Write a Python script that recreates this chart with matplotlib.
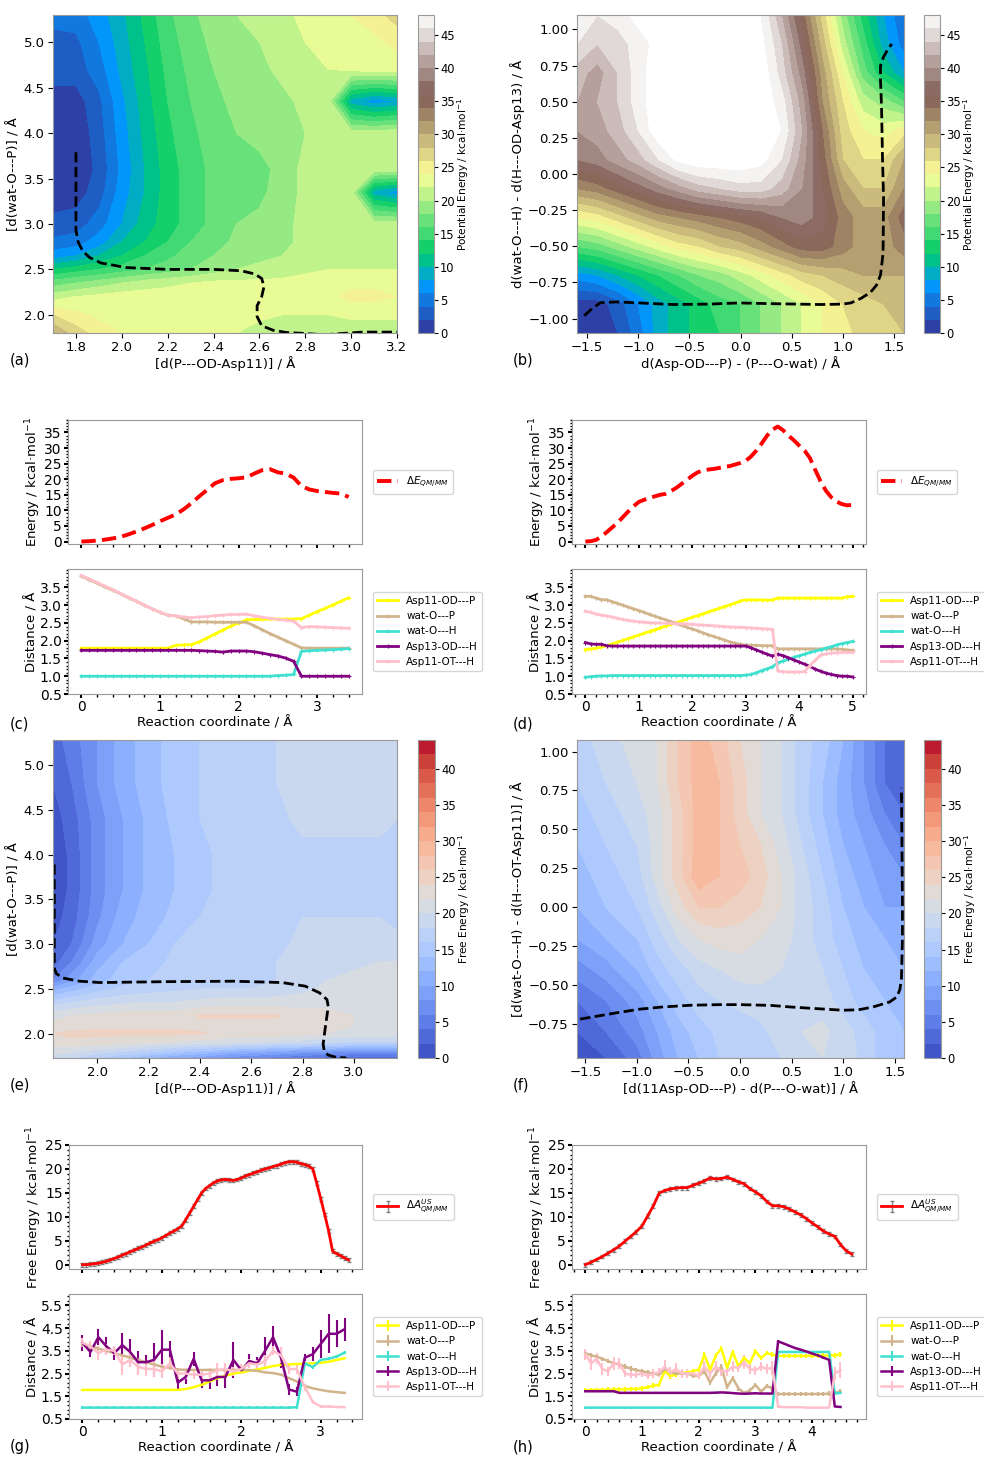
import numpy as np
import matplotlib
matplotlib.use('Agg')
import matplotlib.pyplot as plt
from matplotlib.ticker import MultipleLocator, AutoMinorLocator

# ---------------- contour data (a): potential energy ----------------
XA = [1.7, 1.8, 1.9, 2.0, 2.1, 2.2, 2.3, 2.4, 2.5, 2.6, 2.7, 2.8, 2.9, 3.0, 3.1, 3.2]
YA = [1.8, 2.0, 2.2, 2.35, 2.5, 2.65, 2.8, 3.0, 3.35, 3.6, 4.0, 4.35, 4.7, 5.0, 5.3]
ZA = [
    [30, 27, 25, 24, 23, 23, 22.5, 22.5, 22, 21, 21, 20.5, 20.5, 20.5, 20.5, 20.5],
    [26, 24.5, 23.5, 23, 23, 23, 23, 23, 23, 22.5, 22, 22, 22, 22.5, 22.5, 22.5],
    [21, 22, 22.5, 23, 23, 23, 23, 23, 23, 23, 23, 23, 23.5, 24.5, 24.5, 24],
    [17, 18, 19, 20, 21, 21.5, 22, 22.5, 22.5, 22.5, 22.5, 23, 23, 23.5, 23.5, 23],
    [12, 13, 14, 15, 16, 17, 18, 19, 20, 20.5, 21, 21.5, 22, 22, 22, 22],
    [7, 8, 10, 12, 14, 15.5, 17, 18, 19, 19.5, 20, 21, 21, 21, 21, 21],
    [4.5, 5, 7, 10, 12, 14, 16, 17, 18.5, 19, 19.5, 20.5, 21, 21, 21, 21],
    [2.5, 3, 5, 8, 11, 13, 15, 16.5, 18, 18.5, 19.5, 20.5, 21, 21, 21, 21],
    [1, 1, 3, 7, 10, 13, 15, 16.5, 17, 17.5, 19, 20.5, 21, 21, 9, 7],
    [0.5, 0.5, 2.5, 6.5, 10, 13, 15, 16.5, 17, 17, 19, 20.5, 21, 21, 21, 21],
    [0.5, 0.5, 3, 7, 10.5, 13.5, 15.5, 17, 18, 19, 19.5, 20, 21, 21, 21, 21.5],
    [1, 1, 3.5, 7.5, 11, 14, 16, 17.5, 18.5, 19, 19.5, 20.5, 21, 9, 7, 8],
    [3, 3, 5, 8.5, 11.5, 14.5, 16.5, 18, 19, 19.5, 20.5, 21.5, 22, 22.5, 23, 23],
    [3, 3.5, 6, 9, 12, 15, 17, 18.5, 19.5, 20, 21, 22, 22.5, 23, 23.5, 24.5],
    [5, 5, 7, 9.5, 12.5, 15.5, 17.5, 19, 20, 20.5, 21.5, 22.5, 23, 24, 25, 27],
]
PATH_A_X = [1.80, 1.80, 1.80, 1.81, 1.83, 1.86, 1.91, 2.02, 2.20, 2.40, 2.52, 2.58, 2.61, 2.62,
            2.61, 2.59, 2.59, 2.61, 2.66, 2.72, 2.80, 2.88, 2.96, 3.05, 3.20]
PATH_A_Y = [3.79, 3.30, 2.93, 2.80, 2.70, 2.63, 2.57, 2.52, 2.50, 2.50, 2.485, 2.45, 2.40, 2.31,
            2.20, 2.10, 1.98, 1.88, 1.83, 1.805, 1.795, 1.78, 1.795, 1.81, 1.81]

# ---------------- contour data (b) ----------------
XB = [-1.6, -1.4, -1.2, -1.0, -0.8, -0.6, -0.4, -0.2, 0.0, 0.2, 0.4, 0.6, 0.8, 1.0, 1.2, 1.4, 1.6]
YB = [-1.1, -0.9, -0.7, -0.5, -0.3, -0.1, 0.1, 0.3, 0.5, 0.7, 0.9, 1.1]
ZB = [
    [1, 1, 2, 5, 9, 11, 13, 14, 16, 18, 20, 22, 24, 25, 27, 28, 28],
    [1, 1, 3, 6, 9, 11, 13, 15, 16, 18, 20, 22, 24, 26, 27, 28, 29],
    [7, 8, 10, 12, 14, 16, 18, 19, 21, 23, 25, 27, 28, 29, 30, 30, 30],
    [16, 17, 19, 21, 23, 25, 26, 28, 29, 31, 33, 35, 35, 33, 31, 31, 33],
    [24, 25, 27, 29, 31, 32, 33, 34, 35, 36, 38, 39, 37, 33, 31, 31, 35],
    [32, 33, 35, 37, 39, 41, 43, 44, 45, 45, 43, 40, 36, 31, 28, 28, 32],
    [38, 39, 41, 43, 46, 49, 50, 50, 50, 49, 46, 41, 35, 28, 26, 26, 30],
    [40, 41, 43, 46, 50, 52, 52, 52, 52, 52, 48, 42, 34, 27, 24, 23, 25],
    [42, 42, 44, 47, 50, 52, 52, 52, 52, 50, 47, 41, 32, 26, 21, 19, 16],
    [43, 41, 44, 47, 50, 52, 52, 52, 52, 50, 45, 39, 31, 24, 17, 12, 8],
    [46, 44, 45, 47, 49, 51, 52, 52, 51, 49, 44, 37, 29, 21, 15, 9, 5],
    [48, 46, 47, 49, 50, 52, 52, 52, 50, 48, 42, 35, 27, 19, 13, 8, 4],
]
PATH_B_X = [-1.53, -1.45, -1.37, -1.21, -0.9, -0.66, -0.3, -0.02, 0.3, 0.79, 1.0, 1.08, 1.18,
            1.27, 1.33, 1.37, 1.395, 1.40, 1.39, 1.38, 1.37, 1.37, 1.40, 1.44, 1.48]
PATH_B_Y = [-0.98, -0.93, -0.89, -0.885, -0.895, -0.903, -0.90, -0.892, -0.897, -0.903, -0.9,
            -0.892, -0.86, -0.82, -0.77, -0.70, -0.55, -0.17, 0.1, 0.47, 0.65, 0.75, 0.81, 0.86, 0.90]

# ---------------- contour data (e): free energy ----------------
XE = [1.827, 1.9, 2.0, 2.1, 2.2, 2.3, 2.4, 2.5, 2.6, 2.7, 2.8, 2.9, 3.0, 3.1, 3.17]
YE = [1.727, 1.8, 1.9, 2.0, 2.1, 2.2, 2.35, 2.5, 2.6, 2.8, 3.0, 3.3, 3.6, 4.0, 4.4, 4.8, 5.28]
ZE = [
    [19, 18, 16, 14, 12, 10, 9, 7, 6, 5, 4, 3, 2.5, 2.5, 2.5],
    [21, 20.5, 19, 18, 16.5, 15, 13.5, 12, 11, 10, 9, 8.5, 8, 8, 8],
    [23, 23.5, 23, 22.5, 22, 21.5, 21, 20.5, 20, 19.5, 19, 18, 17.5, 17.5, 17.5],
    [24, 24.5, 24.5, 24.5, 24.5, 24.5, 24.2, 23.5, 23, 23, 22.5, 22, 21.5, 21.5, 21.5],
    [22.5, 23, 23.5, 23.5, 23.5, 23.5, 23.5, 23.5, 23.5, 23.5, 23, 22.5, 22, 22, 22],
    [21, 22, 22.5, 23, 23, 23, 24.2, 24.2, 24.2, 24.2, 23, 22.5, 22, 22, 22],
    [17, 18, 19, 19.5, 20, 20, 20.5, 21, 21, 21, 21, 21.5, 21.5, 21.5, 21.5],
    [11, 13, 15, 16.5, 17, 17.5, 18, 18, 18, 18.5, 19.5, 20.5, 21, 21, 21],
    [6, 9, 13, 15, 16, 17, 17.5, 17.5, 17.5, 18, 19, 20, 20.5, 20.5, 21],
    [3, 6, 11, 14, 15, 16.5, 17, 17.5, 17.5, 18, 18.5, 19, 19.5, 20, 20],
    [2, 4, 9, 12, 14, 16, 17, 17, 17.5, 17.5, 18.5, 18.5, 18.5, 18.5, 18.5],
    [1, 3, 7.5, 11, 13, 14.5, 16, 17, 17, 17.5, 18, 18, 18, 18, 17.5],
    [0.5, 2.5, 7, 10, 12.5, 14, 15.5, 16.5, 17, 17, 17.5, 17.5, 17.5, 17, 17],
    [0.5, 2.5, 7, 10, 12.5, 14, 15.5, 16.5, 17, 17, 17.5, 17.5, 17.5, 17.5, 17.5],
    [1, 3, 7, 10, 12.5, 14.5, 16, 16.5, 17, 17.5, 18.5, 18.5, 18.5, 18.5, 18],
    [2, 4, 8, 11, 13, 15, 16, 17, 17, 18, 19, 19, 19, 19, 19],
    [3, 5, 8, 11, 13, 15, 16, 17, 17, 18, 19, 19, 19, 19, 19],
]
PATH_E_X = [1.832, 1.832, 1.832, 1.84, 1.866, 1.931, 2.01, 2.27, 2.53, 2.72, 2.81, 2.866, 2.895,
            2.90, 2.89, 2.88, 2.885, 2.90, 2.93, 2.97]
PATH_E_Y = [3.89, 3.2, 2.73, 2.67, 2.62, 2.585, 2.57, 2.58, 2.585, 2.57, 2.53, 2.455, 2.38,
            2.30, 2.1, 1.88, 1.80, 1.76, 1.735, 1.728]

# ---------------- contour data (f) ----------------
XF = [-1.58, -1.3, -1.0, -0.8, -0.6, -0.4, -0.2, 0.0, 0.2, 0.4, 0.6, 0.8, 1.0, 1.2, 1.4, 1.59]
YF = [-0.97, -0.8, -0.6, -0.4, -0.2, 0.0, 0.2, 0.4, 0.6, 0.8, 1.07]
ZF = [
    [1, 2, 5, 9, 12, 14, 16, 17, 17, 18, 19, 20, 20, 17, 15, 14],
    [2, 4, 7, 10, 13, 15, 16.5, 17, 17.5, 19, 20, 20.5, 19, 17, 15, 14],
    [4, 6, 9, 12, 15, 17, 18, 18.5, 19, 19.5, 19.5, 19, 17, 15, 14, 13],
    [7, 9, 12, 15, 17, 19, 20, 21, 21, 20, 19, 18, 16, 14, 13, 12],
    [10, 12, 14, 17, 20, 22, 23, 23, 22, 21, 19, 17, 15, 13, 12, 11],
    [12, 14, 16, 19, 23, 26, 26, 25, 24, 22, 19, 17, 14, 12, 10, 10],
    [13, 15, 17, 21, 25, 29.5, 28, 27, 25, 22, 19, 16, 13, 11, 9, 8],
    [14, 16, 18, 21, 25, 29, 28, 26, 24, 21, 18, 15, 12, 10, 8, 6],
    [15, 17, 19, 21, 25, 29, 28, 25, 22, 20, 17, 14, 11, 9, 6, 4],
    [16, 18, 20, 22, 26, 29, 28, 25, 22, 20, 17, 14, 11, 8, 4, 2],
    [17, 19, 21, 22, 26, 29, 27, 24, 22, 20, 17, 15, 12, 8, 4, 2],
]
PATH_F_X = [-1.55, -1.2, -0.97, -0.75, -0.48, -0.2, 0.0, 0.3, 0.49, 0.8, 1.0, 1.15, 1.29, 1.40,
            1.45, 1.52, 1.55, 1.565, 1.575, 1.575, 1.57, 1.565]
PATH_F_Y = [-0.72, -0.68, -0.656, -0.642, -0.631, -0.627, -0.627, -0.632, -0.642, -0.655, -0.663,
            -0.66, -0.642, -0.62, -0.61, -0.578, -0.53, -0.46, -0.2, 0.026, 0.4, 0.767]

# ---------------- (c) QM/MM scan ----------------
RC_C = np.round(np.arange(0, 3.41, 0.1), 2)
E_C = [0.0, 0.1, 0.3, 0.6, 1.0, 1.5, 2.3, 3.2, 4.2, 5.3, 6.5, 7.6, 8.7, 10.3, 12.3, 14.5, 16.6,
       18.7, 19.7, 20.1, 20.3, 20.6, 21.8, 22.9, 23.2, 22.2, 21.8, 20.5, 17.8, 16.7, 16.2, 15.9,
       15.6, 15.4, 14.3]
ODP_C = [1.79] * 12 + [1.87, 1.88, 1.89, 1.97, 2.08, 2.19, 2.3, 2.41, 2.5, 2.59, 2.6, 2.6, 2.61,
                       2.61, 2.61, 2.61, 2.62, 2.72, 2.82, 2.91, 3.01, 3.11, 3.21]
WOP_C = [3.82, 3.72, 3.62, 3.52, 3.42, 3.32, 3.21, 3.11, 3.0, 2.9, 2.8, 2.72, 2.7, 2.62, 2.53,
         2.53, 2.53, 2.52, 2.52, 2.52, 2.52, 2.52, 2.42, 2.31, 2.2, 2.1, 2.0, 1.9, 1.8, 1.79,
         1.79, 1.79, 1.79, 1.79, 1.79]
WOH_C = [1.0] * 25 + [1.02, 1.03, 1.05, 1.7, 1.72, 1.73, 1.74, 1.75, 1.76, 1.78]
ODH_C = [1.73] * 15 + [1.72, 1.71, 1.7, 1.68, 1.71, 1.71, 1.71, 1.69, 1.65, 1.61, 1.57, 1.51,
                       1.42, 1.0] + [1.0] * 6
OTH_C = [3.84, 3.74, 3.64, 3.54, 3.44, 3.33, 3.22, 3.12, 3.0, 2.9, 2.8, 2.72, 2.7, 2.67, 2.65,
         2.67, 2.68, 2.71, 2.72, 2.74, 2.74, 2.75, 2.7, 2.66, 2.63, 2.6, 2.58, 2.55, 2.37, 2.4,
         2.39, 2.38, 2.37, 2.36, 2.35]

# ---------------- (d) QM/MM scan ----------------
RC_D = np.round(np.arange(0, 5.01, 0.1), 2)
E_D = [0.0, 0.1, 0.5, 1.6, 3.0, 4.5, 6.0, 7.8, 9.6, 11.3, 12.7, 13.4, 14.0, 14.5, 15.0, 15.3,
       16.2, 17.2, 18.5, 19.8, 21.1, 22.2, 22.8, 23.1, 23.3, 23.6, 24.0, 24.2, 24.7, 25.2, 25.9,
       27.3, 29.2, 31.5, 34.0, 35.9, 36.9, 35.7, 34.0, 32.5, 30.8, 29.2, 26.8, 23.0, 19.3, 16.3,
       14.2, 12.8, 12.0, 11.6, 11.8]
ODP_D = [1.75, 1.77, 1.79, 1.82, 1.86, 1.91, 1.96, 2.01, 2.06, 2.11, 2.16, 2.21, 2.26, 2.31,
         2.36, 2.41, 2.46, 2.51, 2.56, 2.61, 2.66, 2.71, 2.76, 2.81, 2.86, 2.91, 2.96, 3.01, 3.06,
         3.12, 3.15, 3.15, 3.15, 3.15, 3.14, 3.15] + [3.2] * 13 + [3.24, 3.25]
WOP_D = [3.25, 3.25, 3.2, 3.16, 3.15, 3.1, 3.05, 3.0, 2.95, 2.9, 2.85, 2.8, 2.74, 2.69, 2.64,
         2.59, 2.54, 2.49, 2.43, 2.38, 2.33, 2.28, 2.22, 2.17, 2.12, 2.07, 2.02, 1.97, 1.93, 1.9,
         1.88, 1.87, 1.87, 1.86, 1.86, 1.86] + [1.77] * 12 + [1.76, 1.74, 1.73]
WOH_D = [0.97, 0.99, 1.0, 1.01, 1.01] + [1.02] * 25 + [1.03, 1.05, 1.1, 1.16, 1.21, 1.27, 1.38,
                                                     1.43, 1.48, 1.53, 1.58, 1.62, 1.67, 1.71,
                                                     1.75, 1.79, 1.83, 1.88, 1.92, 1.95, 1.98]
ODH_D = [1.95, 1.91, 1.9, 1.9, 1.86] + [1.85] * 26 + [1.8, 1.74, 1.68, 1.62, 1.57, 1.62, 1.58,
                                                    1.52, 1.46, 1.4, 1.34, 1.28, 1.2, 1.14, 1.09,
                                                    1.05, 1.02, 1.0, 1.0, 0.98]
OTH_D = [2.83, 2.8, 2.75, 2.72, 2.7, 2.67, 2.63, 2.6, 2.57, 2.55, 2.53, 2.52, 2.51, 2.5, 2.5,
         2.49, 2.49, 2.48, 2.48, 2.47, 2.46, 2.45, 2.44, 2.43, 2.42, 2.41, 2.4, 2.39, 2.38, 2.38,
         2.37, 2.36, 2.35, 2.34, 2.33, 2.32, 1.15, 1.13, 1.12, 1.12, 1.12, 1.13, 1.3, 1.45, 1.6,
         1.63, 1.65, 1.66, 1.67, 1.67, 1.67]

# ---------------- (g) umbrella sampling ----------------
RC_GE = np.round(np.arange(0, 3.36, 0.05), 2)
A_G = [0.0, 0.0, 0.1, 0.2, 0.3, 0.5, 0.7, 1.0, 1.3, 1.6,
       2.0, 2.3, 2.7, 3.0, 3.4, 3.7, 4.1, 4.5, 4.9, 5.2,
       5.6, 6.1, 6.6, 7.0, 7.5, 8.1, 9.4, 10.8, 12.2, 13.6,
       15.0, 15.9, 16.5, 17.1, 17.5, 17.7, 17.8, 17.7, 17.6, 17.8,
       18.1, 18.5, 18.8, 19.1, 19.4, 19.7, 20.0, 20.2, 20.5, 20.7,
       21.0, 21.3, 21.5, 21.5, 21.4, 21.1, 20.9, 20.6, 20.0, 17.0,
       13.8, 10.5, 7.0, 2.8, 2.3, 1.9, 1.4, 1.0]
A_G_ERR = 0.4
RC_G = np.round(np.arange(0, 3.31, 0.1), 2)
ODP_G = [1.78] * 13 + [1.82, 1.9, 2.0, 2.15, 2.3, 2.4, 2.5, 2.55, 2.62, 2.68, 2.75, 2.83, 2.88,
                       2.9, 2.92, 2.93, 2.95, 2.97, 3.02, 3.1, 3.17]
WOP_G = [3.76, 3.7, 3.6, 3.5, 3.4, 3.3, 3.2, 3.1, 3.0, 2.9, 2.8, 2.75, 2.68, 2.66, 2.66, 2.66,
         2.66, 2.66, 2.66, 2.66, 2.66, 2.65, 2.62, 2.55, 2.52, 2.45, 2.3, 2.15, 1.95, 1.85, 1.78,
         1.72, 1.68, 1.65]
WOH_G = [1.0] * 27 + [1.02, 2.95, 2.78, 3.1, 3.15, 3.25, 3.42]
ODH_G = [3.85, 3.45, 4.1, 3.7, 3.4, 3.75, 3.45, 3.0, 3.0, 3.1, 3.55, 3.55, 2.1, 2.35, 3.15, 2.2,
         2.2, 2.35, 2.35, 3.1, 2.65, 3.05, 2.95, 3.5, 4.1, 3.2, 1.8, 1.7, 3.2, 3.35, 3.8, 4.25,
         4.25, 4.45]
ODH_G_ERR = [0.35, 0.2, 0.35, 0.4, 0.3, 0.55, 0.55, 0.5, 0.3, 0.75, 0.85, 0.4, 0.3, 0.3, 0.3,
             0.35, 0.4, 0.4, 0.5, 0.8, 0.15, 0.3, 0.3, 0.6, 0.5, 0.45, 0.25, 0.2, 0.15, 0.3, 0.6,
             0.85, 0.6, 0.5]
OTH_G = [3.85, 3.7, 3.4, 3.55, 3.5, 2.9, 3.1, 2.8, 2.7, 2.7, 2.6, 2.95, 2.5, 2.5, 2.45, 2.45,
         2.5, 2.65, 2.7, 2.6, 2.7, 2.95, 2.9, 3.05, 3.5, 3.3, 2.7, 2.7, 1.9, 1.25, 1.05, 1.05,
         1.03, 1.02]
OTH_G_ERR = [0.2, 0.25, 0.3, 0.25, 0.2, 0.45, 0.3, 0.35, 0.3, 0.35, 0.3, 0.3, 0.25, 0.25, 0.2,
             0.2, 0.25, 0.3, 0.25, 0.2, 0.2, 0.2, 0.2, 0.25, 0.2, 0.35, 0.2, 0.2, 0.15, 0.1, 0.05,
             0.05, 0.03, 0.03]

# ---------------- (h) umbrella sampling ----------------
RC_HE = np.round(np.arange(0, 4.71, 0.1), 2)
A_H = [0.0, 0.5, 1.1, 1.7, 2.4, 3.1, 3.9, 4.9, 5.9, 6.9, 8.1, 10.2, 12.3, 14.9, 15.5, 15.8,
       16.0, 16.1, 16.1, 16.6, 17.0, 17.5, 18.1, 17.9, 18.0, 18.3, 17.8, 17.3, 16.9, 15.9, 15.2,
       14.4, 13.2, 12.3, 12.3, 12.1, 11.6, 11.0, 10.4, 9.6, 8.7, 7.9, 7.0, 6.4, 5.9, 4.2, 2.9, 2.2]
A_H_ERR = 0.4
RC_H = np.round(np.arange(0, 4.51, 0.1), 2)
ODP_H = [1.77, 1.77, 1.78, 1.78, 1.79, 1.8, 1.8, 1.81, 1.82, 1.83, 1.85, 1.9, 1.97, 2.0, 2.62,
         2.38, 2.47, 2.52, 2.55, 2.6, 2.67, 3.33, 2.67, 3.3, 3.6, 2.75, 3.45, 2.82, 3.2, 2.95,
         3.48, 3.18, 3.4, 3.33, 3.28, 3.28, 3.28, 3.28, 3.28, 3.28, 3.28, 3.29, 3.29, 3.3, 3.3,
         3.35]
WOP_H = [3.4, 3.3, 3.25, 3.15, 3.05, 2.95, 2.9, 2.8, 2.72, 2.65, 2.6, 2.55, 2.5, 2.45, 2.7, 2.55,
         2.5, 2.5, 2.5, 2.4, 2.4, 2.6, 2.1, 2.5, 2.8, 1.9, 2.3, 1.85, 1.65, 1.75, 2.0, 1.7, 1.95,
         1.85, 1.6, 1.6, 1.6, 1.6, 1.6, 1.6, 1.6, 1.6, 1.6, 1.62, 1.65, 1.7]
WOH_H = [1.0] * 34 + [3.45] * 10 + [1.62, 1.65]
ODH_H = [1.72] * 6 + [1.65] * 17 + [1.66, 1.67, 1.66, 1.64, 1.62, 1.61, 1.62, 1.63, 1.62, 1.62,
                                    1.62] + [3.92, 3.82, 3.72, 3.62, 3.55, 3.47, 3.38, 3.3, 3.2,
                                             3.1, 1.05, 1.03]
OTH_H = [3.35, 2.95, 3.15, 2.7, 2.6, 2.95, 2.95, 2.5, 2.45, 2.45, 2.5, 2.4, 2.5, 2.55, 2.8, 2.55,
         2.7, 2.5, 2.5, 2.5, 2.4, 2.8, 2.5, 2.8, 2.6, 2.6, 2.8, 2.75, 3.0, 2.7, 2.65, 2.8, 2.7,
         2.75, 1.05, 1.02, 1.02, 1.02, 1.02, 1.0, 1.0, 1.0, 1.0, 1.0, 2.5, 2.65]
OTH_H_ERR = [0.25, 0.3, 0.25, 0.25, 0.2, 0.3, 0.25, 0.15, 0.15, 0.15, 0.15, 0.15, 0.2, 0.2, 0.3,
             0.25, 0.25, 0.2, 0.2, 0.15, 0.15, 0.25, 0.2, 0.25, 0.2, 0.2, 0.25, 0.2, 0.3, 0.2,
             0.2, 0.2, 0.2, 0.3, 0.05, 0.03, 0.03, 0.03, 0.03, 0.03, 0.03, 0.03, 0.03, 0.03, 0.3,
             0.35]

DIST_LABELS = ['Asp11-OD---P', 'wat-O---P', 'wat-O---H', 'Asp13-OD---H', 'Asp11-OT---H']
DIST_COLORS = ['yellow', 'tan', 'turquoise', 'purple', 'pink']

plt.rcParams['font.family'] = 'DejaVu Sans'
plt.rcParams['font.size'] = 9.5
plt.rcParams['mathtext.fontset'] = 'dejavusans'
plt.rcParams['axes.edgecolor'] = '0.6'

W, H = 984, 1457
fig = plt.figure(figsize=(W / 100, H / 100), dpi=100)


def add_ax(x0, y0, x1, y1):
    return fig.add_axes([x0 / W, 1 - y1 / H, (x1 - x0) / W, (y1 - y0) / H])


def contour_panel(box, cbox, xg, yg, z, levels, cmap, px, py, xlim, ylim, xlabel, ylabel,
                  cb_label, cb_ticks):
    ax = add_ax(*box)
    cs = ax.contourf(xg, yg, np.array(z), levels=levels, cmap=cmap)
    ax.plot(px, py, color='black', ls='--', lw=2)
    ax.set_xlim(*xlim)
    ax.set_ylim(*ylim)
    ax.set_xlabel(xlabel, fontsize=9.5, labelpad=1)
    ax.set_ylabel(ylabel, fontsize=9.5, labelpad=2)
    ax.tick_params(labelsize=9.5, pad=2.5)
    cax = add_ax(*cbox)
    cb = fig.colorbar(cs, cax=cax, ticks=cb_ticks)
    cb.outline.set_edgecolor('0.6')
    cb.ax.tick_params(labelsize=8.3, pad=1.5, length=3)
    cb.set_label(cb_label, fontsize=7.6, labelpad=0)
    return ax


LEV_T = np.arange(0, 50, 2)
LEV_C = np.arange(0, 46, 2)

ax = contour_panel((53, 15, 397, 333), (418, 15, 434, 333), XA, YA, ZA, LEV_T, 'terrain',
                   PATH_A_X, PATH_A_Y, (1.7, 3.2), (1.8, 5.3),
                   '[d(P---OD-Asp11)] / Å', '[d(wat-O---P)] / Å',
                   'Potential Energy / kcal·mol$^{-1}$', range(0, 50, 5))
ax.set_xticks([1.8, 2.0, 2.2, 2.4, 2.6, 2.8, 3.0, 3.2])
ax.set_yticks([2.0, 2.5, 3.0, 3.5, 4.0, 4.5, 5.0])

ax = contour_panel((577, 15, 904, 333), (924, 15, 940, 333), XB, YB, ZB, LEV_T, 'terrain',
                   PATH_B_X, PATH_B_Y, (-1.6, 1.6), (-1.1, 1.1),
                   'd(Asp-OD---P) - (P---O-wat) / Å', 'd(wat-O---H) - d(H---OD-Asp13) / Å',
                   'Potential Energy / kcal·mol$^{-1}$', range(0, 50, 5))
ax.set_xticks([-1.5, -1.0, -0.5, 0.0, 0.5, 1.0, 1.5])
ax.set_yticks([-1.0, -0.75, -0.5, -0.25, 0.0, 0.25, 0.5, 0.75, 1.0])

ax = contour_panel((53, 740, 397, 1058), (418, 740, 435, 1058), XE, YE, ZE, LEV_C, 'coolwarm',
                   PATH_E_X, PATH_E_Y, (1.827, 3.168), (1.727, 5.28),
                   '[d(P---OD-Asp11)] / Å', '[d(wat-O---P)] / Å',
                   'Free Energy / kcal·mol$^{-1}$', range(0, 45, 5))
ax.set_xticks([2.0, 2.2, 2.4, 2.6, 2.8, 3.0])
ax.set_yticks([2.0, 2.5, 3.0, 3.5, 4.0, 4.5, 5.0])

ax = contour_panel((577, 740, 904, 1058), (924, 740, 941, 1058), XF, YF, ZF, LEV_C, 'coolwarm',
                   PATH_F_X, PATH_F_Y, (-1.58, 1.59), (-0.97, 1.074),
                   '[d(11Asp-OD---P) - d(P---O-wat)] / Å', '[d(wat-O---H) - d(H---OT-Asp11)] / Å',
                   'Free Energy / kcal·mol$^{-1}$', range(0, 45, 5))
ax.set_xticks([-1.5, -1.0, -0.5, 0.0, 0.5, 1.0, 1.5])
ax.set_yticks([-0.75, -0.5, -0.25, 0.0, 0.25, 0.5, 0.75, 1.0])


def style_line_ax(ax, xlim, xminor):
    ax.set_xlim(*xlim)
    ax.xaxis.set_major_locator(MultipleLocator(1))
    ax.xaxis.set_minor_locator(MultipleLocator(xminor))
    ax.yaxis.set_minor_locator(AutoMinorLocator(5))
    ax.tick_params(labelsize=10, pad=1.5, length=3, width=1.5)
    ax.tick_params(which='minor', length=1.8, width=1)


def energy_scan(box, rc, e, xlim):
    ax = add_ax(*box)
    ax.plot(rc, e, color='red', ls='--', lw=2.8, label=r'$\Delta E_{QM/MM}$')
    style_line_ax(ax, xlim, 0.2)
    ax.set_ylim(-0.8, 39)
    ax.yaxis.set_major_locator(MultipleLocator(5))
    ax.tick_params(labelbottom=False)
    ax.set_ylabel('Energy / kcal·mol$^{-1}$', fontsize=9.5, labelpad=1)
    ax.legend(loc='center left', bbox_to_anchor=(1.02, 0.5), fontsize=7.5)


def dist_scan(box, rc, series, xlim):
    ax = add_ax(*box)
    for y, c, lab in zip(series, DIST_COLORS, DIST_LABELS):
        ax.plot(rc, y, color=c, lw=2, marker='+', ms=3.5, mew=0.8, label=lab)
    style_line_ax(ax, xlim, 0.2)
    ax.set_ylim(0.5, 4.02)
    ax.set_yticks([0.5, 1.0, 1.5, 2.0, 2.5, 3.0, 3.5])
    ax.set_ylabel('Distance / Å', fontsize=9.5, labelpad=1)
    ax.set_xlabel('Reaction coordinate / Å', fontsize=9.5, labelpad=1)
    ax.legend(loc='center left', bbox_to_anchor=(1.02, 0.5), fontsize=7.5)


energy_scan((68, 420, 362, 544), RC_C, E_C, (-0.17, 3.57))
dist_scan((68, 569, 362, 694), RC_C, [ODP_C, WOP_C, WOH_C, ODH_C, OTH_C], (-0.17, 3.57))
energy_scan((572, 420, 866, 544), RC_D, E_D, (-0.25, 5.25))
dist_scan((572, 569, 866, 694), RC_D, [ODP_D, WOP_D, WOH_D, ODH_D, OTH_D], (-0.25, 5.25))


def energy_us(box, rc, a, err, xlim, xminor):
    ax = add_ax(*box)
    ax.errorbar(rc, a, yerr=err, color='red', lw=2, ecolor='grey', elinewidth=1, capsize=1.5,
                capthick=1, label=r'$\Delta A^{US}_{QM/MM}$')
    style_line_ax(ax, xlim, xminor)
    ax.set_ylim(-0.9, 25)
    ax.yaxis.set_major_locator(MultipleLocator(5))
    ax.tick_params(labelbottom=False)
    ax.set_ylabel('Free Energy / kcal·mol$^{-1}$', fontsize=9.5, labelpad=1)
    ax.legend(loc='center left', bbox_to_anchor=(1.02, 0.5), fontsize=7.5)


def dist_us(box, rc, series, errs, xlim, xminor):
    ax = add_ax(*box)
    for y, er, c, lab in zip(series, errs, DIST_COLORS, DIST_LABELS):
        ax.errorbar(rc, y, yerr=er, color=c, lw=1.8, elinewidth=1.5, label=lab)
    style_line_ax(ax, xlim, xminor)
    ax.set_ylim(0.5, 6.0)
    ax.set_yticks([0.5, 1.5, 2.5, 3.5, 4.5, 5.5])
    ax.set_ylabel('Distance / Å', fontsize=9.5, labelpad=1)
    ax.set_xlabel('Reaction coordinate / Å', fontsize=9.5, labelpad=1)
    ax.legend(loc='center left', bbox_to_anchor=(1.02, 0.5), fontsize=7.5)


energy_us((69, 1145, 362, 1269), RC_GE, A_G, A_G_ERR, (-0.17, 3.52), 0.2)
dist_us((69, 1294, 362, 1419), RC_G, [ODP_G, WOP_G, WOH_G, ODH_G, OTH_G],
        [0.03, 0.03, 0.06, ODH_G_ERR, OTH_G_ERR], (-0.17, 3.52), 0.2)
energy_us((572, 1145, 866, 1269), RC_HE, A_H, A_H_ERR, (-0.235, 4.95), 0.2)
dist_us((572, 1294, 866, 1419), RC_H, [ODP_H, WOP_H, WOH_H, ODH_H, OTH_H],
        [0.1, 0.1, 0.04, 0.04, OTH_H_ERR], (-0.235, 4.95), 0.2)

for tag, x, y in [('(a)', 10, 360), ('(b)', 513, 360), ('(c)', 10, 724), ('(d)', 513, 724),
                  ('(e)', 10, 1085), ('(f)', 513, 1085), ('(g)', 10, 1446), ('(h)', 513, 1447)]:
    fig.text(x / W, 1 - y / H, tag, fontsize=10.5, va='center', ha='left')

fig.savefig('out.png', dpi=100)
